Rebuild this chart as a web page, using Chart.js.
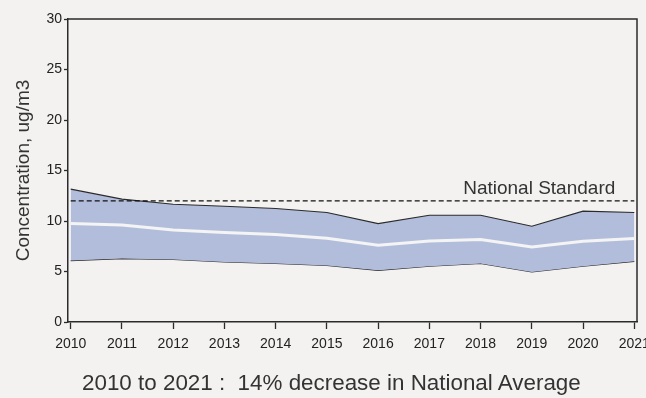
<!DOCTYPE html>
<html lang="en">
<head>
    <meta charset="UTF-8" />
    <title>PM2.5 National Trend</title>
    <style>
        body {
            margin: 0;
            padding: 0;
            background-color: #f3f2f0;
            font-family: "Liberation Sans", Arial, sans-serif;
        }

        .wrap {
            position: relative;
            width: 646px;
            height: 398px;
        }

        #caption {
            position: absolute;
            left: 82px;
            top: 372px;
            font-size: 22.4px;
            line-height: 22px;
            color: #333;
            white-space: pre;
        }
    </style>
    <script src="https://cdn.jsdelivr.net/npm/chart.js"></script>
</head>
<body>
    <div class="wrap">
        <canvas id="trendChart" width="646" height="398"></canvas>
        <div id="caption">2010 to 2021 :  14% decrease in National Average</div>
    </div>

    <script>
    // data
    const years = [2010, 2011, 2012, 2013, 2014, 2015, 2016, 2017, 2018, 2019, 2020, 2021];
    const upper = [13.15, 12.16, 11.66, 11.46, 11.24, 10.84, 9.75, 10.57, 10.57, 9.48, 10.97, 10.84];
    const mean = [9.75, 9.6, 9.1, 8.86, 8.66, 8.3, 7.6, 8.03, 8.17, 7.43, 8.0, 8.27];
    const lower = [6.08, 6.28, 6.2, 5.95, 5.8, 5.6, 5.12, 5.52, 5.79, 4.96, 5.52, 6.01];
    const standardYears = [2010, 2021];
    const standard = [12, 12];
    const yTicks = [0, 5, 10, 15, 20, 25, 30];

    const pts = (xs, ys) => xs.map((x, i) => ({ x: x, y: ys[i] }));
    const ink = '#2b2b2b';

    // top/right frame + "National Standard" label
    const frame = {
      id: 'frame',
      afterDraw(chart) {
        const { ctx, chartArea: a, scales } = chart;
        ctx.save();
        ctx.strokeStyle = ink;
        ctx.lineWidth = 1.5;
        ctx.beginPath();
        ctx.moveTo(a.left, a.top);
        ctx.lineTo(a.right, a.top);
        ctx.lineTo(a.right, a.bottom);
        ctx.stroke();

        ctx.fillStyle = '#333';
        ctx.font = '19px "Liberation Sans", Arial, sans-serif';
        ctx.textAlign = 'right';
        ctx.textBaseline = 'alphabetic';
        ctx.fillText('National Standard', scales.x.getPixelForValue(2021) - 19, scales.y.getPixelForValue(12) - 7);
        ctx.restore();
      }
    };

    new Chart(document.getElementById('trendChart'), {
      type: 'line',
      data: {
        datasets: [
          {
            data: pts(standardYears, standard),
            borderColor: '#111',
            borderWidth: 1.2,
            borderDash: [5, 3],
            pointRadius: 0,
            fill: false
          },
          {
            data: pts(years, mean),
            borderColor: '#f4f4f4',
            borderWidth: 3,
            pointRadius: 0,
            fill: false
          },
          {
            data: pts(years, upper),
            borderColor: ink,
            borderWidth: 1.2,
            backgroundColor: '#b1bdda',
            pointRadius: 0,
            fill: '+1'
          },
          {
            data: pts(years, lower),
            borderColor: ink,
            borderWidth: 1.2,
            pointRadius: 0,
            fill: false
          }
        ]
      },
      options: {
        responsive: false,
        animation: false,
        layout: { padding: { top: 19, right: 9, left: 0, bottom: 0 } },
        plugins: {
          legend: { display: false },
          tooltip: { enabled: false }
        },
        scales: {
          x: {
            type: 'linear',
            min: 2009.947,
            max: 2021.053,
            afterBuildTicks: s => { s.ticks = years.map(v => ({ value: v })); },
            afterFit: s => { s.height = 76; s.paddingLeft = 0; s.paddingRight = 0; },
            border: { display: true, color: ink, width: 1.5 },
            grid: { drawOnChartArea: false, drawTicks: true, tickLength: 7, tickColor: ink, tickWidth: 1.3 },
            ticks: {
              padding: 7,
              maxRotation: 0,
              autoSkip: false,
              color: '#222',
              font: { family: '"Liberation Sans", Arial, sans-serif', size: 14 },
              callback: v => String(v)
            }
          },
          y: {
            min: 0,
            max: 30,
            afterBuildTicks: s => { s.ticks = yTicks.map(v => ({ value: v })); },
            afterFit: s => { s.width = 68; s.paddingTop = 0; s.paddingBottom = 0; },
            border: { display: true, color: ink, width: 1.5 },
            grid: { drawOnChartArea: false, drawTicks: true, tickLength: 4, tickColor: ink, tickWidth: 1.3 },
            ticks: {
              padding: 2,
              color: '#222',
              font: { family: '"Liberation Sans", Arial, sans-serif', size: 14 }
            },
            title: {
              display: true,
              text: 'Concentration, ug/m3',
              color: '#333',
              padding: { top: 12, bottom: 0 },
              font: { family: '"Liberation Sans", Arial, sans-serif', size: 19 }
            }
          }
        }
      },
      plugins: [frame]
    });
    </script>
</body>
</html>
